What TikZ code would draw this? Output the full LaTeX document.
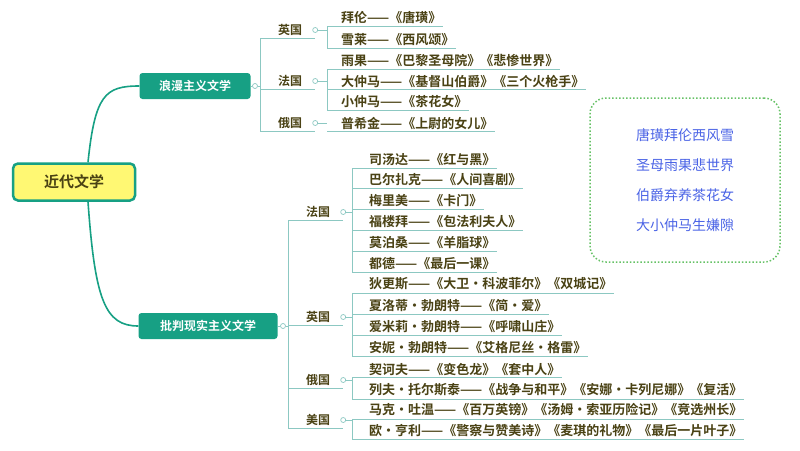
\documentclass[tikz,border=0pt]{standalone}
\usepackage{fontspec}
\setmainfont{Noto Sans CJK SC}
\newfontfamily\cjkb{Noto Sans CJK SC Bold}
\usetikzlibrary{calc}
\definecolor{txt}{HTML}{4A4214}
\definecolor{tl}{HTML}{8CC8C2}
\definecolor{teal}{HTML}{17A084}
\definecolor{blu}{HTML}{4A63E6}
\begin{document}
\begin{tikzpicture}[x=1pt,y=-1pt,
 leaf/.style={anchor=west,inner xsep=1pt,inner ysep=2.5pt,font=\cjkb\fontsize{13}{14}\selectfont,text=txt},
 ctry/.style={inner sep=3pt,font=\cjkb\fontsize{12}{13}\selectfont,text=txt},
 ln/.style={draw=tl,line width=0.9pt},
 knob/.style={circle,draw=tl,fill=white,inner sep=0pt,minimum size=5pt,line width=0.7pt},
 cat/.style={fill=teal,rounded corners=3pt,text=white,font=\cjkb\fontsize{12}{13}\selectfont,inner xsep=6pt,minimum height=26pt}]
\useasboundingbox (0,0) rectangle (800,450);
\fill[white] (0,0) rectangle (800,450);
% root and categories
\node[draw=teal,line width=2.5pt,fill=yellow!55,rounded corners=5pt,minimum width=122pt,minimum height=37pt,font=\cjkb\fontsize{15}{17}\selectfont,text=txt] (root) at (74,182) {近代文学};
\node[cat,minimum width=111pt] (rom) at (195,86) {浪漫主义文学};
\node[cat,minimum width=139pt] (cri) at (208,326) {批判现实主义文学};
\draw[teal,line width=1.6pt] ($(root.north)+(14,0)$) .. controls (95,95) and (105,86) .. (rom.west);
\draw[teal,line width=1.6pt] ($(root.south)+(14,0)$) .. controls (95,300) and (105,326) .. (cri.west);
% ---------- romantic
\coordinate (bA) at (260,0);
\node[knob] (kr) at (255,86) {};
\draw[ln] (rom.east) -- (kr) -- (kr -| bA);
\node[ctry] (c1) at (290,30) {英国};
\node[ctry] (c2) at (290,81) {法国};
\node[ctry] (c3) at (290,123) {俄国};
\draw[ln] (bA |- 0,39) -- (bA |- 0,132);
\foreach \c/\k in {c1/k1,c2/k2,c3/k3}{
 \node[knob] (\k) at ($(\c.east)+(10,0)$) {};
 \draw[ln] (bA |- \c.south) -- (\k |- \c.south);
}
\coordinate (bB) at (327,0);
\node[leaf] (a1) at (340,18) {拜伦——《唐璜》};
\node[leaf] (a2) at (340,40) {雪莱——《西风颂》};
\node[leaf] (a3) at (340,61) {雨果——《巴黎圣母院》《悲惨世界》};
\node[leaf] (a4) at (340,81) {大仲马——《基督山伯爵》《三个火枪手》};
\node[leaf] (a5) at (340,102) {小仲马——《茶花女》};
\node[leaf] (a6) at (340,123) {普希金——《上尉的女儿》};
\foreach \n in {a1,a2,a3,a4,a5,a6}{\draw[ln] (bB |- \n.south) -- (\n.south east);}
\draw[ln] (bB |- a1.south) -- (bB |- a2.south);
\draw[ln] (bB |- a3.south) -- (bB |- a5.south);
\draw[ln] (k1) -- (k1 -| bB); \draw[ln] (k2) -- (k2 -| bB); \draw[ln] (k3) -- (k3 -| bB);
% ---------- critical
\coordinate (bC) at (288,0);
\node[knob] (kc) at (283,326) {};
\draw[ln] (cri.east) -- (kc) -- (kc -| bC);
\node[ctry] (d1) at (318,212) {法国};
\node[ctry] (d2) at (318,317) {英国};
\node[ctry] (d3) at (318,380) {俄国};
\node[ctry] (d4) at (318,420) {美国};
\draw[ln] (bC |- d1.south) -- (bC |- d4.south);
\foreach \c/\k in {d1/m1,d2/m2,d3/m3,d4/m4}{
 \node[knob] (\k) at ($(\c.east)+(10,0)$) {};
 \draw[ln] (bC |- \c.south) -- (\k |- \c.south);
}
\coordinate (bD) at (352,0);
\node[leaf] (e1) at (368,160) {司汤达——《红与黑》};
\node[leaf] (e2) at (368,180) {巴尔扎克——《人间喜剧》};
\node[leaf] (e3) at (368,201) {梅里美——《卡门》};
\node[leaf] (e4) at (368,222) {福楼拜——《包法利夫人》};
\node[leaf] (e5) at (368,243) {莫泊桑——《羊脂球》};
\node[leaf] (e6) at (368,264) {都德——《最后一课》};
\node[leaf] (e7) at (368,284) {狄更斯——《大卫·科波菲尔》《双城记》};
\node[leaf] (e8) at (368,306) {夏洛蒂·勃朗特——《简·爱》};
\node[leaf] (e9) at (368,327) {爱米莉·勃朗特——《呼啸山庄》};
\node[leaf] (e10) at (368,348) {安妮·勃朗特——《艾格尼丝·格雷》};
\node[leaf] (e11) at (368,369) {契诃夫——《变色龙》《套中人》};
\node[leaf] (e12) at (368,390) {列夫·托尔斯泰——《战争与和平》《安娜·卡列尼娜》《复活》};
\node[leaf] (e13) at (368,410) {马克·吐温——《百万英镑》《汤姆·索亚历险记》《竞选州长》};
\node[leaf] (e14) at (368,431) {欧·亨利——《警察与赞美诗》《麦琪的礼物》《最后一片叶子》};
\foreach \n in {e1,e2,e3,e4,e5,e6,e7,e8,e9,e10,e11,e12,e13,e14}{\draw[ln] (bD |- \n.south) -- (\n.south east);}
\draw[ln] (bD |- e1.south) -- (bD |- e6.south);
\draw[ln] (bD |- e7.south) -- (bD |- e10.south);
\draw[ln] (bD |- e11.south) -- (bD |- e12.south);
\draw[ln] (bD |- e13.south) -- (bD |- e14.south);
\foreach \k in {m1,m2,m3,m4}{\draw[ln] (\k) -- (\k -| bD);}
% mnemonic box
\node[draw=green!60!black!60,dotted,line width=1.5pt,rounded corners=16pt,minimum width=190pt,minimum height=164pt] (memo) at (685,180) {};
\node[text=blu,font=\fontsize{14}{30}\selectfont,align=center] (mtext) at (memo.center) {唐璜拜伦西风雪\\圣母雨果悲世界\\伯爵弃养茶花女\\大小仲马生嫌隙};
\end{tikzpicture}
\end{document}
